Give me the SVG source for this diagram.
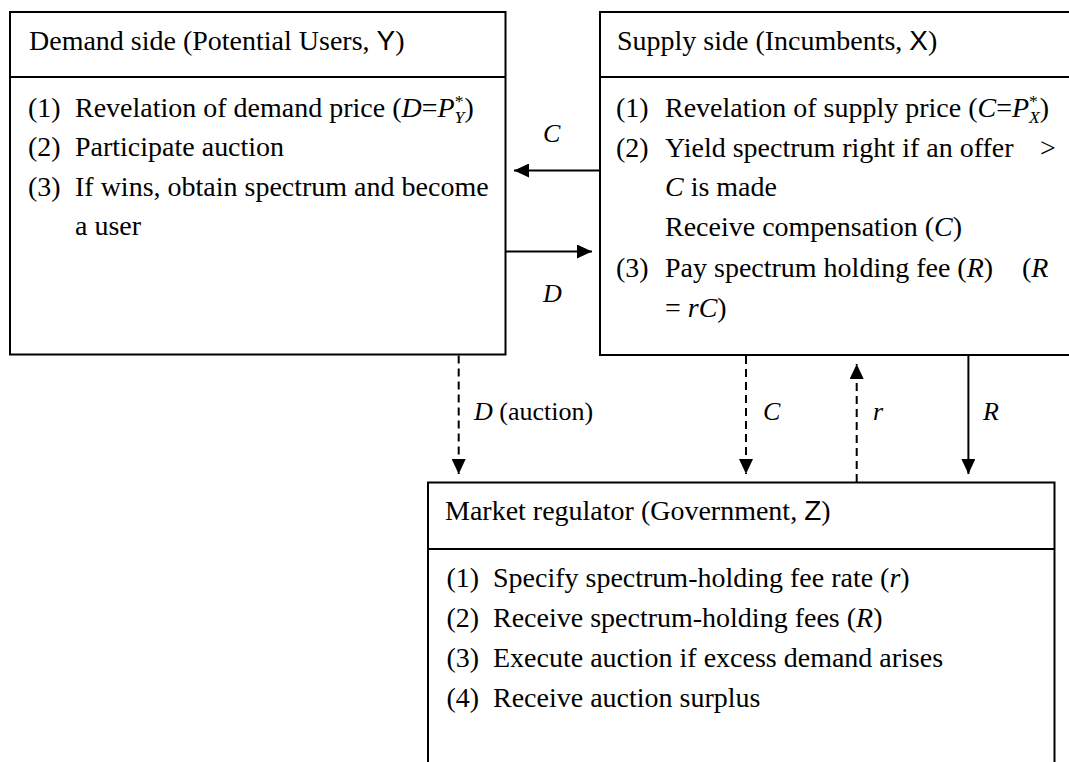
<svg xmlns="http://www.w3.org/2000/svg" width="1069" height="762" viewBox="0 0 1069 762">
<defs>
<style>
.box{fill:#fff;stroke:#000;stroke-width:2}
.ln{stroke:#000;stroke-width:2;fill:none}
.dash{stroke-dasharray:8 5}
.t{font-family:"Liberation Serif","Times New Roman",serif;font-size:27px;fill:#000}
.lb{font-size:26px}
.i{font-style:italic}
.s{font-family:"Liberation Sans",Arial,sans-serif}
.sup{font-size:17px}
</style>
<marker id="ah" markerUnits="userSpaceOnUse" markerWidth="15" markerHeight="14" viewBox="0 0 15 14" refX="15" refY="7" orient="auto">
<path d="M0,0L15,7L0,14z" fill="#000" stroke="none"/>
</marker>
</defs>
<rect width="1069" height="762" fill="#fff"/>

<g id="demand">
<rect class="box" x="10" y="12" width="495.5" height="342.5"/>
<line class="ln" x1="10" y1="77" x2="505.5" y2="77"/>
<text class="t" transform="matrix(1.037 0 0 1 29 50)">Demand side (Potential Users, <tspan class="s">Y</tspan>)</text>
<text class="t" transform="matrix(1.037 0 0 1 28 117)">(1)</text>
<text class="t" transform="matrix(1.037 0 0 1 75 117)">Revelation of demand price (<tspan class="i">D</tspan>=<tspan class="i">P</tspan><tspan class="sup" dy="-10">*</tspan><tspan class="i sup" dx="-8.5" dy="16">Y</tspan><tspan dy="-6">)</tspan></text>
<text class="t" transform="matrix(1.037 0 0 1 28 156.3)">(2)</text>
<text class="t" transform="matrix(1.037 0 0 1 75 156.3)">Participate auction</text>
<text class="t" transform="matrix(1.037 0 0 1 28 195.6)">(3)</text>
<text class="t" transform="matrix(1.037 0 0 1 75 195.6)">If wins, obtain spectrum and become</text>
<text class="t" transform="matrix(1.037 0 0 1 75 235)">a user</text>
</g>

<g id="supply">
<rect class="box" x="600" y="12" width="490" height="343"/>
<line class="ln" x1="600" y1="77" x2="1090" y2="77"/>
<text class="t" transform="matrix(1.037 0 0 1 617 50)">Supply side (Incumbents, <tspan class="s">X</tspan>)</text>
<text class="t" transform="matrix(1.037 0 0 1 616 117)">(1)</text>
<text class="t" transform="matrix(1.037 0 0 1 665 117)">Revelation of supply price (<tspan class="i">C</tspan>=<tspan class="i">P</tspan><tspan class="sup" dy="-10">*</tspan><tspan class="i sup" dx="-8.5" dy="16">X</tspan><tspan dy="-6">)</tspan></text>
<text class="t" transform="matrix(1.037 0 0 1 616 156.5)">(2)</text>
<text class="t" transform="matrix(1.037 0 0 1 665 156.5)">Yield spectrum right if an offer</text>
<text class="t" transform="matrix(1.037 0 0 1 1040 156.5)">&gt;</text>
<text class="t" transform="matrix(1.037 0 0 1 665 196)"><tspan class="i">C</tspan> is made</text>
<text class="t" transform="matrix(1.037 0 0 1 665 235.5)">Receive compensation (<tspan class="i">C</tspan>)</text>
<text class="t" transform="matrix(1.037 0 0 1 616 277)">(3)</text>
<text class="t" transform="matrix(1.037 0 0 1 665 277)">Pay spectrum holding fee (<tspan class="i">R</tspan>)</text>
<text class="t" transform="matrix(1.037 0 0 1 1022 277)">(<tspan class="i">R</tspan></text>
<text class="t" transform="matrix(1.037 0 0 1 665 316.5)">= <tspan class="i">rC</tspan>)</text>
</g>

<g id="regulator">
<rect class="box" x="428" y="482.5" width="626.5" height="300"/>
<line class="ln" x1="428" y1="549" x2="1054.5" y2="549"/>
<text class="t" transform="matrix(1.037 0 0 1 445 520)">Market regulator (Government, <tspan class="s">Z</tspan>)</text>
<text class="t" transform="matrix(1.037 0 0 1 446.5 587)">(1)</text>
<text class="t" transform="matrix(1.037 0 0 1 493 587)">Specify spectrum-holding fee rate (<tspan class="i">r</tspan>)</text>
<text class="t" transform="matrix(1.037 0 0 1 446.5 627)">(2)</text>
<text class="t" transform="matrix(1.037 0 0 1 493 627)">Receive spectrum-holding fees (<tspan class="i">R</tspan>)</text>
<text class="t" transform="matrix(1.037 0 0 1 446.5 667)">(3)</text>
<text class="t" transform="matrix(1.037 0 0 1 493 667)">Execute auction if excess demand arises</text>
<text class="t" transform="matrix(1.037 0 0 1 446.5 707)">(4)</text>
<text class="t" transform="matrix(1.037 0 0 1 493 707)">Receive auction surplus</text>
</g>

<g id="connectors">
<line class="ln" x1="600" y1="170.5" x2="514" y2="170.5" marker-end="url(#ah)"/>
<line class="ln" x1="505.5" y1="251.5" x2="592" y2="251.5" marker-end="url(#ah)"/>
<line class="ln dash" x1="458.7" y1="355.5" x2="458.7" y2="474" marker-end="url(#ah)"/>
<line class="ln dash" x1="746" y1="356" x2="746" y2="474" marker-end="url(#ah)"/>
<line class="ln dash" x1="856.7" y1="482" x2="856.7" y2="364" marker-end="url(#ah)"/>
<line class="ln" x1="968.4" y1="356" x2="968.4" y2="474" marker-end="url(#ah)"/>
<text class="t lb i" x="543" y="142">C</text>
<text class="t lb i" x="543" y="302">D</text>
<text class="t lb" x="474" y="420"><tspan class="i">D</tspan> (auction)</text>
<text class="t lb i" x="763" y="420">C</text>
<text class="t lb i" x="873" y="420">r</text>
<text class="t lb i" x="983" y="420">R</text>
</g>
</svg>
